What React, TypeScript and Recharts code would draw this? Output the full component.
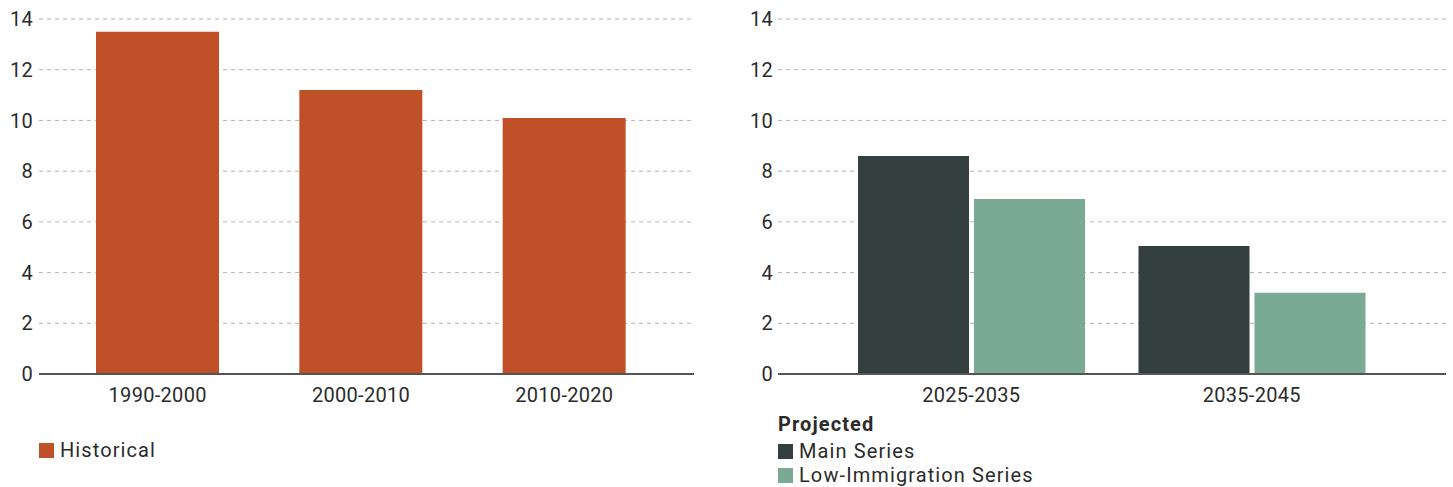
import React from 'react';
import { BarChart, Bar, XAxis, YAxis, CartesianGrid } from 'recharts';

const historicalPeriods = ['1990-2000', '2000-2010', '2010-2020'];
const historicalValues = [13.5, 11.2, 10.1];

const projectedPeriods = ['2025-2035', '2035-2045'];
const mainSeries = [8.6, 5.05];
const lowImmigrationSeries = [6.9, 3.2];

const yTicks = [0, 2, 4, 6, 8, 10, 12, 14];

const historicalData = historicalPeriods.map((period, i) => ({
  period,
  historical: historicalValues[i],
}));

const projectedData = projectedPeriods.map((period, i) => ({
  period,
  main: mainSeries[i],
  low: lowImmigrationSeries[i],
}));

const FONT = 'Roboto, sans-serif';
const TEXT = '#2b2b2b';
const tick = { fontSize: 20, fill: TEXT, fontFamily: FONT, letterSpacing: 0.3 };

const swatch = (color: string) => ({
  display: 'inline-block',
  flex: 'none',
  width: 15,
  height: 15,
  background: color,
  marginRight: 6,
});

const legendRow = {
  position: 'absolute' as const,
  display: 'flex',
  alignItems: 'center',
  height: 20,
  fontFamily: FONT,
  fontSize: 20,
  letterSpacing: 1.1,
  color: TEXT,
  lineHeight: '20px',
  whiteSpace: 'nowrap' as const,
};

export default function App() {
  return (
    <div style={{ position: 'absolute', left: 0, top: 0, width: 1453, height: 487, background: '#fff' }}>
      {/* Historical */}
      <div style={{ position: 'absolute', left: 0, top: 0 }}>
        <BarChart width={700} height={410} data={historicalData} margin={{ top: 19, right: 6, left: 0, bottom: 0 }}>
          <CartesianGrid vertical={false} strokeDasharray="4 4" stroke="#b3b3b3" />
          <XAxis
            dataKey="period"
            padding={{ left: 17, right: 28 }}
            tick={tick}
            tickLine={false}
            tickSize={0}
            tickMargin={14}
            axisLine={{ stroke: '#555', strokeWidth: 2 }}
            height={36}
          />
          <YAxis
            domain={[0, 14]}
            ticks={yTicks}
            width={39}
            tick={tick}
            tickLine={false}
            tickSize={0}
            tickMargin={6}
            axisLine={false}
          />
          <Bar dataKey="historical" fill="#bf5028" barSize={123} isAnimationActive={false} />
        </BarChart>
      </div>

      {/* Projected */}
      <div style={{ position: 'absolute', left: 738, top: 0 }}>
        <BarChart
          width={708}
          height={410}
          data={projectedData}
          barGap={5}
          margin={{ top: 19, right: 0, left: 0, bottom: 0 }}
        >
          <CartesianGrid vertical={false} strokeDasharray="4 4" stroke="#b3b3b3" />
          <XAxis
            dataKey="period"
            padding={{ left: 53, right: 54 }}
            tick={tick}
            tickLine={false}
            tickSize={0}
            tickMargin={14}
            axisLine={{ stroke: '#555', strokeWidth: 2 }}
            height={36}
          />
          <YAxis
            domain={[0, 14]}
            ticks={yTicks}
            width={40}
            tick={tick}
            tickLine={false}
            tickSize={0}
            tickMargin={5}
            axisLine={false}
          />
          <Bar dataKey="main" fill="#333f3f" barSize={111} isAnimationActive={false} />
          <Bar dataKey="low" fill="#7aaa94" barSize={111} isAnimationActive={false} />
        </BarChart>
      </div>

      {/* legends */}
      <div style={{ ...legendRow, left: 39, top: 440 }}>
        <span style={swatch('#bf5028')} />
        <span>Historical</span>
      </div>
      <div style={{ ...legendRow, left: 778, top: 414, fontWeight: 700 }}>
        <span>Projected</span>
      </div>
      <div style={{ ...legendRow, left: 778, top: 441 }}>
        <span style={swatch('#333f3f')} />
        <span>Main Series</span>
      </div>
      <div style={{ ...legendRow, left: 778, top: 465 }}>
        <span style={swatch('#7aaa94')} />
        <span>Low-Immigration Series</span>
      </div>
    </div>
  );
}
